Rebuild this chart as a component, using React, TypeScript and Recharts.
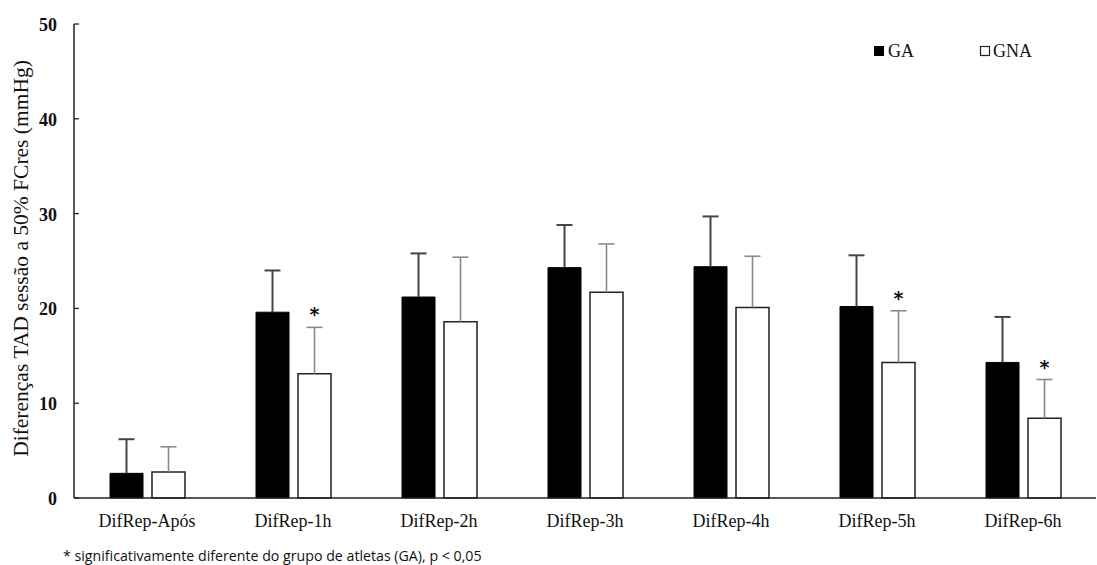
import React from 'react';
import { BarChart, Bar, XAxis, YAxis, LabelList } from 'recharts';

const categories = ['DifRep-Após', 'DifRep-1h', 'DifRep-2h', 'DifRep-3h', 'DifRep-4h', 'DifRep-5h', 'DifRep-6h'];
const gaValues = [2.6, 19.6, 21.2, 24.3, 24.4, 20.2, 14.3];
const gaErrors = [3.6, 4.4, 4.6, 4.5, 5.3, 5.4, 4.8];
const gnaValues = [2.75, 13.1, 18.6, 21.7, 20.1, 14.3, 8.4];
const gnaErrors = [2.65, 4.9, 6.8, 5.1, 5.4, 5.45, 4.1];
const significant = [false, true, false, false, false, true, true];
const yTicks = [0, 10, 20, 30, 40, 50];
const seriesNames = ['GA', 'GNA'];

const data = categories.map((name, i) => ({
  name,
  GA: gaValues[i],
  GNA: gnaValues[i],
  gaRatio: (gaValues[i] + gaErrors[i]) / gaValues[i],
  gnaRatio: (gnaValues[i] + gnaErrors[i]) / gnaValues[i],
  starRatio: significant[i] ? (gnaValues[i] + gnaErrors[i]) / gnaValues[i] : null,
}));

const SERIF = '"Liberation Serif", "Times New Roman", serif';

const makeErr = (color: string, sw: number) => (props: any) => {
  const { x, y, width, height, value } = props;
  if (value == null) return null;
  const bottom = Number(y) + Number(height);
  const top = bottom - Number(height) * Number(value);
  const cx = Number(x) + Number(width) / 2;
  return (
    <g>
      <line x1={cx} x2={cx} y1={Number(y)} y2={top} stroke={color} strokeWidth={sw} />
      <line x1={cx - 8} x2={cx + 8} y1={top} y2={top} stroke={color} strokeWidth={sw} />
    </g>
  );
};

const Star = (props: any) => {
  const { x, y, width, height, value } = props;
  if (value == null) return null;
  const bottom = Number(y) + Number(height);
  const top = bottom - Number(height) * Number(value);
  const cx = Number(x) + Number(width) / 2;
  return (
    <text x={cx} y={top - 17 + 11} textAnchor="middle" fontFamily='"DejaVu Sans", sans-serif' fontWeight="bold" fontSize={19} fill="#111">
      *
    </text>
  );
};

const YTick = (props: any) => {
  const { x, y, payload } = props;
  return (
    <g>
      <line x1={x + 17} x2={x + 22} y1={y} y2={y} stroke="#222" strokeWidth={1.3} />
      <text x={x} y={y + 7} textAnchor="end" fontFamily={SERIF} fontWeight="bold" fontSize={18} fill="#111">
        {payload.value}
      </text>
    </g>
  );
};

const XTick = (props: any) => {
  const { x, y, payload } = props;
  return (
    <text x={x} y={y + 29} textAnchor="middle" fontFamily={SERIF} fontSize={18} fill="#111">
      {payload.value}
    </text>
  );
};

export default function App() {
  return (
    <div style={{ position: 'absolute', left: 0, top: 0, width: 1097, height: 565, background: '#fff' }}>
      <BarChart
        width={1097}
        height={565}
        data={data}
        margin={{ top: 24, right: 1, left: 0, bottom: 0 }}
        barSize={33}
        barGap={9}
      >
        <XAxis
          dataKey="name"
          height={67}
          axisLine={{ stroke: '#222', strokeWidth: 1.5 }}
          tickLine={false}
          tickSize={0}
          tickMargin={0}
          tick={<XTick />}
          interval={0}
        />
        <YAxis
          width={74}
          domain={[0, 50]}
          ticks={yTicks}
          axisLine={{ stroke: '#222', strokeWidth: 1.5 }}
          tickLine={false}
          tickSize={0}
          tickMargin={17}
          tick={<YTick />}
          label={{
            content: () => (
              <text transform="translate(28,258.5) rotate(-90)" textAnchor="middle" fontFamily={SERIF} fontSize={21.5} fill="#111">
                Diferenças TAD sessão a 50% FCres (mmHg)
              </text>
            ),
          }}
        />
        <Bar dataKey="GA" fill="#000" stroke="#000" strokeWidth={1} isAnimationActive={false}>
          <LabelList dataKey="gaRatio" content={makeErr('#444', 2)} />
        </Bar>
        <Bar dataKey="GNA" fill="#fff" stroke="#222" strokeWidth={1.5} isAnimationActive={false}>
          <LabelList dataKey="gnaRatio" content={makeErr('#8a8a8a', 1.6)} />
          <LabelList dataKey="starRatio" content={<Star />} />
        </Bar>
      </BarChart>
      <svg width={180} height={30} style={{ position: 'absolute', left: 874, top: 40 }}>
        <rect x={0.5} y={6.5} width={9} height={9} fill="#000" stroke="#000" />
        <text x={14} y={17} fontFamily={SERIF} fontSize={18} fill="#111">{seriesNames[0]}</text>
        <rect x={106.5} y={6.5} width={9} height={9} fill="#fff" stroke="#222" strokeWidth={1.2} />
        <text x={119} y={17} fontFamily={SERIF} fontSize={18} fill="#111">{seriesNames[1]}</text>
      </svg>
      <div
        style={{
          position: 'absolute',
          left: 63,
          top: 547,
          fontFamily: '"Open Sans", sans-serif',
          fontSize: 14.2,
          lineHeight: '18px',
          color: '#111',
          whiteSpace: 'nowrap',
        }}
      >
        * significativamente diferente do grupo de atletas (GA), p &lt; 0,05
      </div>
    </div>
  );
}
